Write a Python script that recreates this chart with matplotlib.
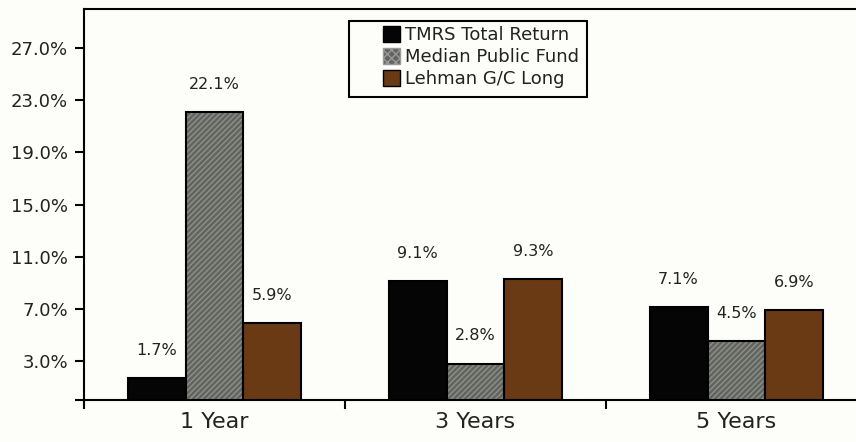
import numpy as np
import matplotlib
matplotlib.use("Agg")
import matplotlib.pyplot as plt
from matplotlib.patches import Patch, Rectangle

# data
periods = ["1 Year", "3 Years", "5 Years"]
tmrs = [1.7, 9.1, 7.1]
median_fund = [22.1, 2.8, 4.5]
lehman = [5.9, 9.3, 6.9]
series_names = ["TMRS Total Return", "Median Public Fund", "Lehman G/C Long"]
yticks = [0, 3, 7, 11, 15, 19, 23, 27]

BLACK = "#050505"
GREY = "#62645f"
BROWN = "#6a3a15"
BG = "#fdfdf9"
TXT = "#222222"

plt.rcParams["font.family"] = "DejaVu Sans"

fig = plt.figure(figsize=(8.56, 4.42), dpi=100, facecolor=BG)
# axes runs past the right edge of the picture, as in the reference
ax = fig.add_axes([84 / 856, 42 / 442, 783 / 856, 391 / 442], facecolor=BG)

x = np.arange(len(periods))
w = 0.222
ax.bar(x - w, tmrs, w, color=BLACK, edgecolor="black", lw=1.5, zorder=3)
# hatched grey: texture layer, then outline
ax.bar(x, median_fund, w, color=GREY, edgecolor="#8e908a", hatch="//////", lw=0, zorder=3)
ax.bar(x, median_fund, w, fill=False, edgecolor="black", lw=1.5, zorder=4)
ax.bar(x + w, lehman, w, color=BROWN, edgecolor="black", lw=1.5, zorder=3)

for vals, off in [(tmrs, -w), (median_fund, 0), (lehman, w)]:
    for xi, v in zip(x, vals):
        ax.annotate(f"{v:.1f}%", (xi + off, v), xytext=(0, 20), textcoords="offset points",
                    ha="center", va="center", fontsize=11.5, color=TXT)

ax.set_xlim(-0.5, 2.5)
ax.set_ylim(0, 30)
ax.set_yticks(yticks)
ax.set_yticklabels([""] + [f"{t:.1f}%" for t in yticks[1:]], fontsize=13, color=TXT)
ax.set_xticks([-0.5, 0.5, 1.5, 2.5])
ax.set_xticklabels([])
ax.set_xticks(x, minor=True)
ax.set_xticklabels(periods, minor=True, fontsize=16, color=TXT)
ax.tick_params(axis="x", which="minor", length=0, pad=9)
ax.tick_params(axis="x", which="major", length=6.5, width=1.5, direction="out")
ax.tick_params(axis="y", length=6.5, width=1.5, direction="out", pad=5)
for s in ax.spines.values():
    s.set_linewidth(1.5)
ax.spines["right"].set_visible(False)

handles = [Patch(facecolor=BLACK, edgecolor="black"),
           Patch(facecolor=GREY, edgecolor="#999999", hatch="xxxx"),
           Patch(facecolor=BROWN, edgecolor="black")]
leg = ax.legend(handles, series_names, loc="upper left",
                bbox_to_anchor=((383 - 84) / 783, (400 - 26) / 391),
                fontsize=13, frameon=False, handlelength=0.95, handleheight=0.95,
                handletextpad=0.25, labelspacing=0.22, borderpad=0, borderaxespad=0)
for t in leg.get_texts():
    t.set_color(TXT)
fig.add_artist(Rectangle((349 / 856, (442 - 97) / 442), (587 - 349) / 856, 76 / 442,
                         transform=fig.transFigure, fill=False, edgecolor="black", lw=1.5))

fig.savefig("out.png", dpi=100, facecolor=BG)
